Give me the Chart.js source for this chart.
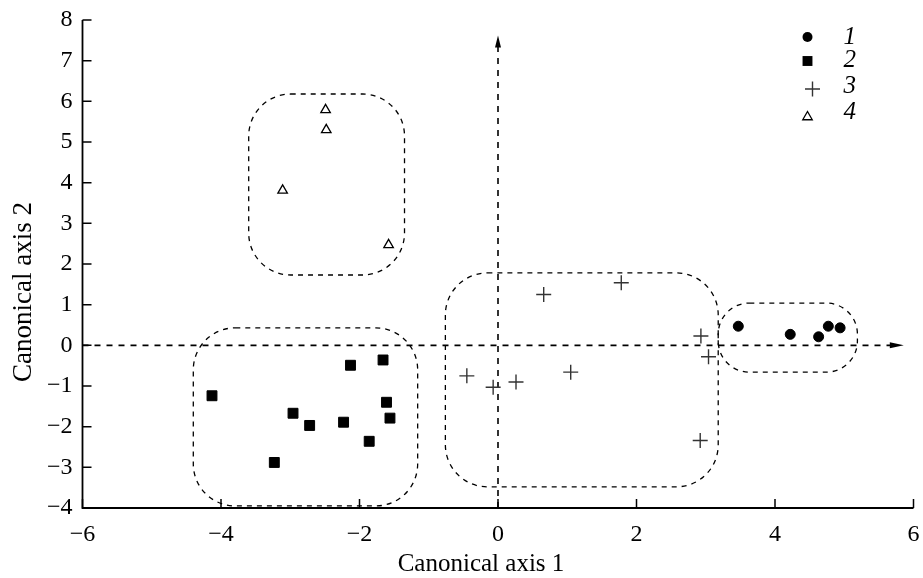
<!DOCTYPE html>
<html>
<head>
<meta charset="utf-8">
<script src="https://cdn.jsdelivr.net/npm/chart.js@4.4.1/dist/chart.umd.min.js"></script>
<style>
  html, body { margin: 0; padding: 0; background: #fff; }
  canvas { display: block; }
</style>
</head>
<body>
<canvas id="c" width="923" height="578"></canvas>
<script>
// ---- data ----
const seriesLabels = ['1', '2', '3', '4'];
const group1X = [3.47, 4.22, 4.63, 4.77, 4.94];
const group1Y = [0.47, 0.27, 0.21, 0.47, 0.43];
const group2X = [-4.13, -2.96, -2.72, -3.23, -2.13, -1.66, -1.61, -1.56, -2.23, -1.86];
const group2Y = [-1.24, -1.67, -1.97, -2.88, -0.49, -0.36, -1.40, -1.79, -1.89, -2.36];
const group3X = [0.66, 1.78, 2.93, 3.04, -0.45, -0.07, 0.26, 1.05, 2.92];
const group3Y = [1.25, 1.54, 0.23, -0.28, -0.75, -1.03, -0.90, -0.66, -2.34];
const group4X = [-2.49, -2.48, -3.11, -1.58];
const group4Y = [5.79, 5.30, 3.81, 2.47];
const xTicks = [-6, -4, -2, 0, 2, 4, 6];
const yTicks = [-4, -3, -2, -1, 0, 1, 2, 3, 4, 5, 6, 7, 8];
const xTitle = 'Canonical axis 1';
const yTitle = 'Canonical axis 2';
// cluster outlines in data units: [xMin, xMax, yMin, yMax]
const clusterBoxes = [
  [-3.60, -1.35, 1.73, 6.18],
  [-4.40, -1.16, -3.95, 0.43],
  [-0.76, 3.18, -3.48, 1.78],
  [3.18, 5.19, -0.66, 1.04]
];
// dashed reference axes: ends (data units)
const refAxisXEnd = 5.86;
const refAxisYEnd = 7.62;

const zip = (xs, ys) => xs.map((x, i) => ({ x, y: ys[i] }));
const minus = v => String(v).replace('-', '\u2212');
const SERIF = '"Liberation Serif", "DejaVu Serif", serif';

const styles = [
  { pointStyle: 'circle', radius: 5, bg: '#000', border: '#000', bw: 1 },
  { pointStyle: 'rect', radius: 7, bg: '#000', border: '#000', bw: 1 },
  { pointStyle: 'cross', radius: 7.5, bg: '#333', border: '#333', bw: 1.4 },
  { pointStyle: 'triangle', radius: 5.5, bg: '#fff', border: '#000', bw: 1.3 }
];

const rawData = [zip(group1X, group1Y), zip(group2X, group2Y), zip(group3X, group3Y), zip(group4X, group4Y)];

const datasets = rawData.map((d, i) => ({
  label: seriesLabels[i],
  data: d,
  pointStyle: styles[i].pointStyle,
  pointRadius: styles[i].radius,
  pointBackgroundColor: styles[i].bg,
  pointBorderColor: styles[i].border,
  pointBorderWidth: styles[i].bw,
  showLine: false
}));

function drawMarker(ctx, style, x, y) {
  ctx.save();
  ctx.fillStyle = style.bg;
  ctx.strokeStyle = style.border;
  ctx.lineWidth = style.bw;
  const r = style.radius;
  ctx.beginPath();
  if (style.pointStyle === 'circle') {
    ctx.arc(x, y, r, 0, Math.PI * 2);
    ctx.fill();
  } else if (style.pointStyle === 'rect') {
    const s = Math.SQRT1_2 * r;
    ctx.rect(x - s, y - s, 2 * s, 2 * s);
    ctx.fill();
  } else if (style.pointStyle === 'cross') {
    ctx.moveTo(x - r, y); ctx.lineTo(x + r, y);
    ctx.moveTo(x, y - r); ctx.lineTo(x, y + r);
    ctx.stroke();
  } else if (style.pointStyle === 'triangle') {
    for (let k = 0; k < 3; k++) {
      const a = k * 2 * Math.PI / 3;
      const px = x + Math.sin(a) * r, py = y - Math.cos(a) * r;
      if (k === 0) ctx.moveTo(px, py); else ctx.lineTo(px, py);
    }
    ctx.closePath();
    ctx.fill();
    ctx.stroke();
  }
  ctx.restore();
}

const decorPlugin = {
  id: 'decor',
  beforeDatasetsDraw(chart) {
    const ctx = chart.ctx;
    const xs = chart.scales.x, ys = chart.scales.y;
    ctx.save();
    // cluster outlines
    ctx.strokeStyle = '#000';
    ctx.lineWidth = 1.3;
    ctx.setLineDash([5, 5]);
    clusterBoxes.forEach(b => {
      const l = xs.getPixelForValue(b[0]), r = xs.getPixelForValue(b[1]);
      const t = ys.getPixelForValue(b[3]), btm = ys.getPixelForValue(b[2]);
      const w = r - l, h = btm - t;
      const rad = Math.min(42, 0.45 * Math.min(w, h));
      ctx.beginPath();
      ctx.roundRect(l, t, w, h, rad);
      ctx.stroke();
    });
    // dashed reference axes
    ctx.lineWidth = 1.6;
    ctx.setLineDash([6, 6]);
    const x0 = xs.getPixelForValue(0), y0 = ys.getPixelForValue(0);
    const xe = xs.getPixelForValue(refAxisXEnd), ye = ys.getPixelForValue(refAxisYEnd);
    ctx.beginPath();
    ctx.moveTo(chart.chartArea.left, y0); ctx.lineTo(xe - 12, y0);
    ctx.moveTo(x0, chart.chartArea.bottom); ctx.lineTo(x0, ye + 10);
    ctx.stroke();
    ctx.setLineDash([]);
    ctx.fillStyle = '#000';
    ctx.beginPath();
    ctx.moveTo(xe, y0); ctx.lineTo(xe - 14, y0 - 3); ctx.lineTo(xe - 14, y0 + 3); ctx.closePath();
    ctx.fill();
    ctx.beginPath();
    ctx.moveTo(x0, ye); ctx.lineTo(x0 - 3, ye + 12); ctx.lineTo(x0 + 3, ye + 12); ctx.closePath();
    ctx.fill();
    ctx.restore();
  },
  afterDraw(chart) {
    const ctx = chart.ctx;
    const xs = chart.scales.x, ys = chart.scales.y;
    const a = chart.chartArea;
    ctx.save();
    // frame: left and bottom axes
    ctx.strokeStyle = '#000';
    ctx.lineWidth = 1.8;
    ctx.beginPath();
    ctx.moveTo(a.left, a.top); ctx.lineTo(a.left, a.bottom); ctx.lineTo(a.right, a.bottom);
    ctx.stroke();
    // inward ticks
    ctx.lineWidth = 1.5;
    ctx.beginPath();
    yTicks.forEach(v => {
      const py = ys.getPixelForValue(v);
      ctx.moveTo(a.left, py); ctx.lineTo(a.left + 9, py);
    });
    xTicks.forEach(v => {
      const px = xs.getPixelForValue(v);
      ctx.moveTo(px, a.bottom); ctx.lineTo(px, a.bottom - 9);
    });
    ctx.stroke();
    // axis titles
    ctx.fillStyle = '#000';
    ctx.textAlign = 'center';
    ctx.textBaseline = 'middle';
    ctx.font = '25px ' + SERIF;
    ctx.fillText(xTitle, (a.left + a.right) / 2 - 17, 564);
    ctx.save();
    ctx.translate(24, (a.top + a.bottom) / 2 + 28);
    ctx.rotate(-Math.PI / 2);
    ctx.font = '27px ' + SERIF;
    ctx.fillText(yTitle, 0, 0);
    ctx.restore();
    // legend
    const lx = a.right - 106, tx = a.right - 70;
    const markerY = [a.top + 17, a.top + 41, a.top + 69, a.top + 97];
    const textY = [a.top + 17, a.top + 40, a.top + 66, a.top + 92];
    ctx.font = 'italic 25px ' + SERIF;
    ctx.textAlign = 'left';
    styles.forEach((s, i) => {
      drawMarker(ctx, s, lx + (s.pointStyle === 'cross' ? 5 : 0), markerY[i]);
      ctx.fillText(seriesLabels[i], tx, textY[i]);
    });
    ctx.restore();
  }
};

new Chart(document.getElementById('c'), {
  type: 'scatter',
  data: { datasets },
  options: {
    responsive: false,
    devicePixelRatio: 1,
    animation: false,
    layout: { padding: { top: 20, right: 9.5, left: 0, bottom: 0 } },
    plugins: { legend: { display: false }, tooltip: { enabled: false } },
    scales: {
      x: {
        type: 'linear',
        min: -6, max: 6,
        afterFit: s => { s.height = 70; s.paddingLeft = 0; s.paddingRight = 0; },
        afterBuildTicks: s => { s.ticks = xTicks.map(v => ({ value: v })); },
        grid: { display: false, drawTicks: false },
        border: { display: false },
        ticks: { color: '#000', padding: 12, maxRotation: 0, font: { family: SERIF, size: 24 }, callback: v => minus(v) }
      },
      y: {
        type: 'linear',
        min: -4, max: 8,
        afterFit: s => { s.width = 82.5; s.paddingTop = 0; s.paddingBottom = 0; },
        afterBuildTicks: s => { s.ticks = yTicks.map(v => ({ value: v })); },
        grid: { display: false, drawTicks: false },
        border: { display: false },
        ticks: { color: '#000', padding: 10, font: { family: SERIF, size: 24 }, callback: v => minus(v) }
      }
    }
  },
  plugins: [decorPlugin]
});
</script>
</body>
</html>
